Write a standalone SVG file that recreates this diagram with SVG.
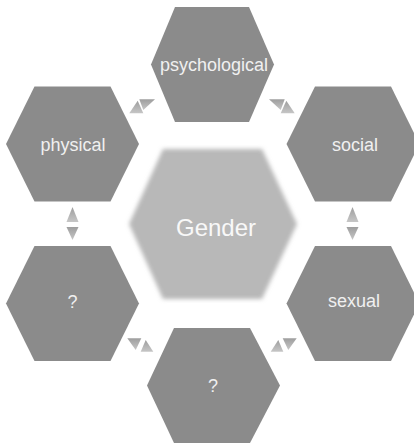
<svg xmlns="http://www.w3.org/2000/svg" width="414" height="447" viewBox="0 0 414 447">
<defs>
<linearGradient id="tg" x1="0" y1="0" x2="0" y2="1">
<stop offset="0" stop-color="#9e9e9e"/>
<stop offset="1" stop-color="#c6c6c6"/>
</linearGradient>
<filter id="soft" x="-10%" y="-10%" width="120%" height="120%">
<feGaussianBlur stdDeviation="2.2"/>
</filter>
<style>
.hex{fill:#8b8b8b}
.lbl{font-family:"Liberation Sans",Arial,sans-serif;font-size:18px;fill:#f0f0f0;text-anchor:middle}
.tri{fill:url(#tg)}
</style>
</defs>
<rect width="414" height="447" fill="#ffffff"/>
<g id="connectors">
<polygon class="tri" points="129.3,113.3 143.3,113.3 137.7,100.7"/>
<polygon class="tri" points="139.3,99.3 155,99.3 143.3,110"/>
<polygon class="tri" points="294.7,113.3 280.7,113.3 286.3,100.7"/>
<polygon class="tri" points="284.7,99.3 269,99.3 280.7,110"/>
<polygon class="tri" points="270.7,351.7 283.3,351.7 278.3,340"/>
<polygon class="tri" points="282.7,338.3 296.7,338.3 288.3,350"/>
<polygon class="tri" points="153.3,351.7 140.7,351.7 145.7,340"/>
<polygon class="tri" points="141.3,338.3 127.3,338.3 135.7,350"/>
<polygon class="tri" points="72.5,207 66.5,222 78.5,222"/>
<polygon class="tri" points="66.5,227 78.5,227 72.5,240"/>
<polygon class="tri" points="352.5,207 346.5,222 358.5,222"/>
<polygon class="tri" points="346.5,227 358.5,227 352.5,240"/>
</g>
<g id="gender">
<polygon points="129,224 163,149 262,149 297,224 262,299 163,299" fill="#b8b8b8" filter="url(#soft)"/>
<text x="216" y="236" style="font-family:'Liberation Sans',Arial,sans-serif;font-size:24px;fill:#f8f8f8;text-anchor:middle">Gender</text>
</g>
<g id="psychological">
<polygon class="hex" points="151,64.5 175,7 249,7 274,64.5 249,122 175,122"/>
<text class="lbl" x="214" y="70.5">psychological</text>
</g>
<g id="physical">
<polygon class="hex" points="6,144 34.5,86.5 110.5,86.5 139,144 110.5,201.5 34.5,201.5"/>
<text class="lbl" x="73" y="150.5">physical</text>
</g>
<g id="social">
<polygon class="hex" points="286.5,144 315,86.5 391,86.5 419.5,144 391,201.5 315,201.5"/>
<text class="lbl" x="355" y="150.5">social</text>
</g>
<g id="sexual">
<polygon class="hex" points="286.5,303.5 315,246 391,246 419.5,303.5 391,361 315,361"/>
<text class="lbl" x="354" y="306.5">sexual</text>
</g>
<g id="unknown-bottom">
<polygon class="hex" points="147,385.5 174,328 250,328 280,385.5 250,443 174,443"/>
<text class="lbl" x="213" y="391.5">?</text>
</g>
<g id="unknown-left">
<polygon class="hex" points="6,303.5 34.5,246 110.5,246 139,303.5 110.5,361 34.5,361"/>
<text class="lbl" x="72.5" y="308">?</text>
</g>
</svg>
